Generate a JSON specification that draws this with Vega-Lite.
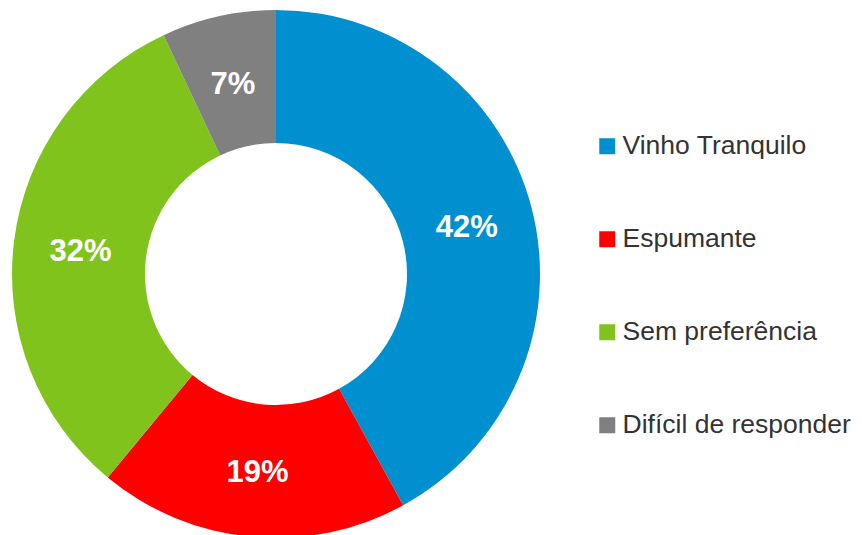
{
  "$schema": "https://vega.github.io/schema/vega-lite/v6.json",
  "width": 552,
  "height": 548,
  "padding": 0,
  "autosize": {"type": "pad"},
  "background": "white",
  "data": {"values": [
    {"category": "Vinho Tranquilo", "value": 42, "label": "42%", "ord": 1},
    {"category": "Espumante", "value": 19, "label": "19%", "ord": 2},
    {"category": "Sem preferência", "value": 32, "label": "32%", "ord": 3},
    {"category": "Difícil de responder", "value": 7, "label": "7%", "ord": 4}
  ]},
  "encoding": {
    "theta": {"field": "value", "type": "quantitative", "stack": true},
    "order": {"field": "ord", "type": "quantitative"}
  },
  "layer": [
    {
      "mark": {"type": "arc", "innerRadius": 131, "outerRadius": 264},
      "encoding": {
        "color": {
          "field": "category", "type": "nominal",
          "scale": {
            "domain": ["Vinho Tranquilo", "Espumante", "Sem preferência", "Difícil de responder"],
            "range": ["#0090d0", "#ff0000", "#80c31c", "#808080"]
          },
          "legend": {
            "title": null,
            "orient": "none",
            "legendX": 594,
            "legendY": 133,
            "symbolType": "square",
            "symbolSize": 256,
            "symbolStrokeWidth": 0,
            "labelFontSize": 26.5,
            "labelFont": "Liberation Sans",
            "labelColor": "#333333",
            "labelOffset": 2,
            "labelLimit": 400,
            "rowPadding": 66
          }
        }
      }
    },
    {
      "mark": {"type": "text", "radius": 197, "dy": 3, "font": "Liberation Sans", "fontWeight": "bold", "fontSize": 31, "color": "white"},
      "encoding": {"text": {"field": "label"}}
    }
  ]
}
